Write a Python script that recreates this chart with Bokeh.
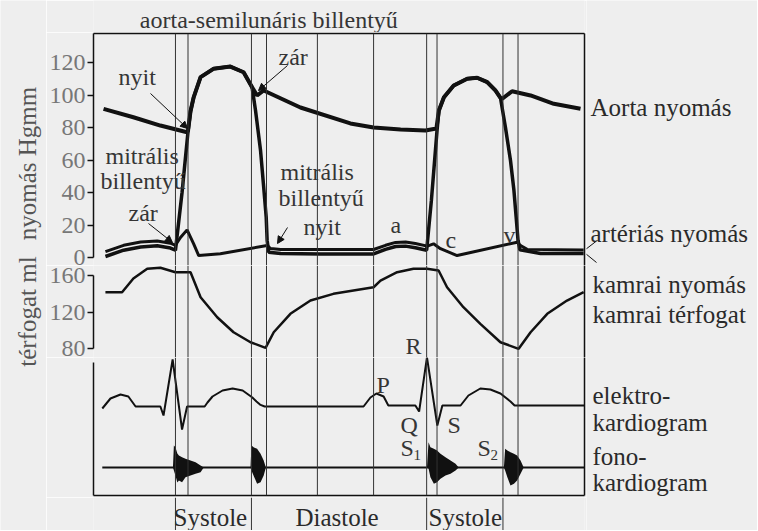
from math import pi
from bokeh.plotting import figure
from bokeh.layouts import row, column
from bokeh.models import Range1d, LinearAxis, FixedTicker, Span, Label, Arrow, NormalHead
from bokeh.core.properties import value
from bokeh.embed import file_html
from bokeh.resources import INLINE

# ---------------------------------------------------------------- data
# time in seconds from the left edge of the diagram
event_times = [0.261, 0.301, 0.503, 0.551, 0.713, 0.892, 1.061, 1.094, 1.304, 1.352]
systole_edges = [0.261, 0.503, 1.061, 1.304]

aorta_t = [0.032, 0.127, 0.213, 0.298, 0.301, 0.309, 0.319, 0.341, 0.382, 0.436,
           0.478, 0.505, 0.521, 0.542, 0.659, 0.818, 0.892, 0.978, 1.057, 1.092,
           1.100, 1.116, 1.147, 1.190, 1.222, 1.254, 1.280, 1.296, 1.302, 1.333,
           1.392, 1.466, 1.551]
aorta_p = [91.5, 86.3, 81.2, 77.1, 78.0, 90.0, 98.6, 111.0, 116.1, 117.5,
           114.0, 104.8, 99.7, 102.8, 92.3, 82.5, 80.0, 78.8, 78.2, 79.4,
           90.5, 98.6, 105.8, 110.0, 110.6, 107.9, 102.8, 98.3, 97.7, 102.3,
           99.7, 94.6, 91.5]

ventr_t = [0.038, 0.096, 0.150, 0.203, 0.245, 0.261, 0.282, 0.301, 0.309, 0.319,
           0.341, 0.382, 0.436, 0.478, 0.505, 0.516, 0.532, 0.542, 0.550, 0.553,
           0.558, 0.596, 0.723, 0.892, 0.930, 0.962, 0.994, 1.025, 1.061, 1.076,
           1.094, 1.100, 1.116, 1.147, 1.190, 1.222, 1.254, 1.280, 1.296, 1.312,
           1.328, 1.339, 1.346, 1.352, 1.358, 1.424, 1.561]
ventr_p = [0.6, 4.5, 6.5, 7.2, 5.8, 4.5, 40.0, 77.5, 90.0, 98.6,
           111.0, 116.1, 117.5, 114.0, 104.8, 90.5, 65.8, 43.3, 24.8, 10.5,
           3.3, 2.5, 2.2, 2.2, 5.0, 6.8, 7.0, 6.0, 4.5, 35.0,
           78.0, 90.5, 98.6, 105.8, 110.0, 110.6, 107.9, 102.8, 98.3, 80.0,
           59.7, 41.2, 24.8, 10.5, 4.7, 2.5, 2.5]

atrium_t = [0.038, 0.096, 0.150, 0.203, 0.245, 0.261, 0.277, 0.298, 0.319, 0.335,
            0.404, 0.553, 0.564, 0.596, 0.723, 0.892, 0.930, 0.962, 0.994, 1.025,
            1.063, 1.083, 1.105, 1.158, 1.349, 1.360, 1.381, 1.561]
atrium_p = [3.6, 7.5, 9.5, 10.2, 8.8, 7.5, 12.3, 17.0, 8.4, 1.2,
            2.3, 7.4, 5.5, 4.9, 4.9, 4.9, 7.5, 9.3, 9.6, 8.6,
            7.0, 8.4, 5.4, 1.2, 9.4, 7.4, 5.0, 4.6]

volume_t = [0.038, 0.091, 0.127, 0.171, 0.213, 0.261, 0.309, 0.341, 0.394, 0.446,
            0.500, 0.548, 0.574, 0.627, 0.691, 0.764, 0.892, 0.914, 0.967, 1.019,
            1.062, 1.099, 1.126, 1.178, 1.232, 1.296, 1.354, 1.392, 1.445, 1.508,
            1.561]
volume_ml = [141.8, 141.8, 156.7, 167.3, 168.4, 163.6, 163.6, 136.3, 114.5, 98.1,
             87.2, 81.1, 98.1, 118.2, 132.7, 140.0, 147.2, 154.5, 163.6, 167.3,
             167.3, 165.5, 147.2, 125.4, 107.3, 87.2, 80.0, 98.1, 118.2, 132.7,
             141.8]

ecg_t = [0.028, 0.054, 0.086, 0.111, 0.134, 0.213, 0.223, 0.252, 0.282, 0.298,
         0.354, 0.363, 0.379, 0.411, 0.443, 0.475, 0.506, 0.519, 0.532, 0.545,
         0.860, 0.882, 0.901, 0.924, 0.939, 1.025, 1.037, 1.062, 1.095, 1.111,
         1.169, 1.194, 1.232, 1.264, 1.296, 1.328, 1.341, 1.564]
ecg_mv = [-0.05, 0.2, 0.3, 0.25, 0.0, 0.0, -0.225, 1.175, -0.575, 0.0,
          0.0, 0.1, 0.25, 0.4, 0.45, 0.4, 0.225, 0.125, 0.04, 0.0,
          0.0, 0.225, 0.325, 0.25, 0.025, 0.025, -0.125, 1.23, -0.475, 0.025,
          0.025, 0.275, 0.45, 0.425, 0.325, 0.125, 0.025, 0.025]

phono_t = [0.028, 1.564]
phono_base = [0.0, 0.0]
# heart-sound bursts: upper / lower envelope
s1a_t = [0.253, 0.256, 0.261, 0.267, 0.272, 0.282, 0.293, 0.309, 0.325, 0.341, 0.351]
s1a_hi = [0.0, 2.2, 2.03, 1.4, 1.2, 1.03, 0.87, 0.7, 0.53, 0.2, 0.0]
s1a_lo = [0.0, -0.3, -0.8, -1.5, -1.3, -1.47, -0.97, -0.8, -0.63, -0.47, 0.0]
s2a_t = [0.500, 0.503, 0.511, 0.521, 0.532, 0.542, 0.549]
s2a_hi = [0.0, 2.2, 2.0, 1.87, 1.37, 0.7, 0.0]
s2a_lo = [0.0, -0.3, -0.9, -1.63, -1.47, -0.8, 0.0]
s1b_t = [1.062, 1.067, 1.073, 1.084, 1.094, 1.105, 1.121, 1.137, 1.153, 1.163]
s1b_hi = [0.0, 2.53, 2.03, 1.87, 1.7, 1.37, 1.03, 0.7, 0.37, 0.0]
s1b_lo = [0.0, -0.1, -0.97, -1.63, -1.47, -1.13, -0.8, -0.63, -0.3, 0.0]
s2b_t = [1.307, 1.311, 1.318, 1.328, 1.339, 1.349, 1.360, 1.370]
s2b_hi = [0.0, 1.87, 1.7, 1.53, 1.37, 1.2, 0.7, 0.0]
s2b_lo = [0.0, -0.3, -0.97, -1.8, -1.63, -1.3, -0.63, 0.0]

pressure_ticks = [0, 20, 40, 60, 80, 100, 120]
volume_ticks = [80, 120, 160]
phase_labels = ["Systole", "Diastole", "Systole"]
phase_t = [0.255, 0.643, 1.067]

axis_titles = ["nyomás Hgmm", "térfogat ml"]
curve_names = ["Aorta nyomás", "artériás nyomás", "kamrai nyomás", "kamrai térfogat",
               "elektro-", "kardiogram", "fono-", "kardiogram"]

# ---------------------------------------------------------------- layout
FONT = "Liberation Serif"
BG = "#eeeeee"
INK = "#111111"
TEXT = "#353535"
DARK_TEXT = "#2a2a2a"
TICK_TEXT = "#777777"
PX_PER_S = 314.0
T_MAX = 491 / PX_PER_S
H = 530
SHIFT = 6          # rendered alphabetic baseline sits ~6px below the anchor


def tx(x):  # reference pixel column -> time (annotation placement)
    return (x - 93) / PX_PER_S


def ya(y):  # pressure panel
    return (257 - y) / 1.625


def yb(y):  # volume panel
    return 160 - (y - 275) / 0.9167


def yc(y):  # ECG panel
    return (406 - y) / 40.0


def yph(y):  # phono scale
    return (467 - y) / 10.0


x_range = Range1d(0, T_MAX)


def make_fig(height, y_range, top=0, bottom=0):
    p = figure(width=540, height=height, x_range=x_range, y_range=y_range,
               output_backend="svg", toolbar_location=None,
               x_axis_location=None, y_axis_location=None,
               min_border_left=47, min_border_right=2,
               min_border_top=top, min_border_bottom=bottom,
               background_fill_color=BG, border_fill_color=BG,
               outline_line_color=None)
    p.grid.visible = False
    return p


def strip(width, height, x0, y0):
    p = figure(width=width, height=height, x_range=Range1d(x0, x0 + width),
               y_range=Range1d(y0 + height, y0),
               output_backend="svg", toolbar_location=None,
               x_axis_location=None, y_axis_location=None, min_border=0,
               background_fill_color=BG, border_fill_color=BG,
               outline_line_color=None)
    p.grid.visible = False
    return p


def edge_axis(p, side, bounds="auto", y_range_name="default"):
    ax = LinearAxis(ticker=FixedTicker(ticks=[]), bounds=bounds,
                    axis_line_color=INK, axis_line_width=1.5,
                    major_tick_out=0, major_tick_in=0, minor_tick_out=0, minor_tick_in=0,
                    major_tick_line_color=None, minor_tick_line_color=None,
                    major_label_standoff=0, axis_label_standoff=0,
                    major_label_text_font_size="0px")
    if side in ("left", "right"):
        ax.y_range_name = y_range_name
    p.add_layout(ax, side)


def value_axis(p, ticks, bounds):
    ax = LinearAxis(ticker=FixedTicker(ticks=ticks), bounds=bounds,
                    axis_line_color=INK, axis_line_width=1.5,
                    major_tick_out=6, major_tick_in=0,
                    major_tick_line_color=INK, major_tick_line_width=1.5,
                    minor_tick_line_color=None,
                    major_label_text_font=FONT, major_label_text_font_size="24px",
                    major_label_text_color=TICK_TEXT, major_label_standoff=2)
    p.add_layout(ax, "left")


def spans(p, times):
    for t in times:
        p.add_layout(Span(location=t, dimension="height", line_color="#333333",
                          line_width=1))


def label(p, x_px, y_px, conv, text, size=24, color=TEXT):
    """place text whose baseline sits at reference pixel (x_px, y_px)"""
    y_anchor = y_px - SHIFT * size / 24.0
    p.add_layout(Label(x=tx(x_px), y=conv(y_anchor), text=text, text_font=FONT,
                       text_font_size=f"{size}px", text_color=color,
                       text_baseline="alphabetic"))


def arrow(p, x0, y0, x1, y1, head=True):
    end = NormalHead(size=7, fill_color=INK, line_color=INK, line_width=1) if head else None
    p.add_layout(Arrow(end=end, x_start=x0, y_start=y0, x_end=x1, y_end=y1,
                       line_color=INK, line_width=1))


# ---- title strip above the box   (0 .. 32)
ft = strip(540, 32, 46, 0)
ft.text(x=[97], y=[25.5 - SHIFT], text=["aorta-semilunáris billentyű"], text_font=value(FONT),
        text_font_size="24px", text_color=TEXT, text_baseline="alphabetic")

# ---- panel A: pressures   (box top at 33, panel bottom at 265)
fa = make_fig(233, Range1d(ya(265), ya(33)), top=1)
edge_axis(fa, "above")
edge_axis(fa, "right")
value_axis(fa, pressure_ticks, (0, ya(33)))
spans(fa, event_times)
fa.line(atrium_t, atrium_p, line_color=INK, line_width=3)
fa.line(ventr_t, ventr_p, line_color=INK, line_width=3.5)
fa.line(aorta_t, aorta_p, line_color=INK, line_width=4)

label(fa, 118, 82, ya, "nyit")
arrow(fa, tx(150), ya(93), tx(187), ya(128))
label(fa, 278, 62, ya, "zár")
arrow(fa, tx(287), ya(65), tx(258), ya(90))
label(fa, 105, 161, ya, "mitrális")
label(fa, 100, 186, ya, "billentyű")
label(fa, 128, 218, ya, "zár")
arrow(fa, tx(148), ya(223), tx(172), ya(242))
label(fa, 280, 177, ya, "mitrális")
label(fa, 278, 203, ya, "billentyű")
label(fa, 303, 232, ya, "nyit")
arrow(fa, tx(287), ya(227), tx(277), ya(243))
label(fa, 390, 230, ya, "a")
label(fa, 445, 245, ya, "c")
label(fa, 503, 240, ya, "v")

# ---- panel B: ventricular volume   (265 .. 357)
fb = make_fig(92, Range1d(yb(357), yb(265)))
edge_axis(fb, "right")
value_axis(fb, volume_ticks, (80, 160))
spans(fb, event_times)
fb.line(volume_t, volume_ml, line_color=INK, line_width=2.5)
label(fb, 405, 351.5, yb, "R")

# ---- panel C: ECG and phonocardiogram   (357 .. 495, box bottom)
fc = make_fig(140, Range1d(yc(495), yc(357)), bottom=2)
fc.extra_y_ranges = {"phono": Range1d(yph(495), yph(357))}
edge_axis(fc, "right")
edge_axis(fc, "below")
edge_axis(fc, "left", bounds=(yc(495), yc(362)))
spans(fc, event_times)
fc.line(ecg_t, ecg_mv, line_color=INK, line_width=2)
fc.line(phono_t, phono_base, line_color=INK, line_width=2, y_range_name="phono")
for bt, lo, hi in [(s1a_t, s1a_lo, s1a_hi), (s2a_t, s2a_lo, s2a_hi),
                   (s1b_t, s1b_lo, s1b_hi), (s2b_t, s2b_lo, s2b_hi)]:
    fc.varea(x=bt, y1=lo, y2=hi, fill_color=INK, y_range_name="phono")
label(fc, 376, 390, yc, "P")
label(fc, 400, 430, yc, "Q")
label(fc, 447, 430, yc, "S")
label(fc, 400, 453, yc, "S")
label(fc, 413, 458, yc, "1", size=15)
label(fc, 477, 453, yc, "S")
label(fc, 490, 458, yc, "2", size=15)

# ---- panel D: phase names below the box   (497 .. 530)
fd = make_fig(33, Range1d(530, 497))
spans(fd, systole_edges)
fd.text(x=phase_t, y=[523 - SHIFT] * 3, text=phase_labels, text_font=value(FONT),
        text_font_size="25px", text_color=DARK_TEXT, text_baseline="alphabetic",
        text_align="left")

# ---- left strip: axis titles (rotated; baseline at x = 33)
fl = strip(46, H, 0, 0)
fl.text(x=[33 - SHIFT, 33 - SHIFT], y=[163, 311], text=axis_titles,
        angle=pi / 2, text_font=value(FONT), text_font_size="25px",
        text_color="#555555", text_align="center", text_baseline="alphabetic")

# ---- right strip: curve names
fr = strip(171, H, 586, 0)
fr.text(x=[590, 590, 592, 592, 592, 592, 592, 592],
        y=[y - SHIFT for y in [113, 239, 290, 320, 401, 428, 462, 488]],
        text=curve_names, text_font=value(FONT), text_font_size="25px",
        text_color=DARK_TEXT, text_baseline="alphabetic")
fr.segment(x0=[585, 585], y0=[249, 253], x1=[596, 596], y1=[240.5, 262],
           line_color=INK, line_width=1)

layout = row(fl, column(ft, fa, fb, fc, fd), fr)
open("out.html", "w").write(file_html(layout, INLINE))
